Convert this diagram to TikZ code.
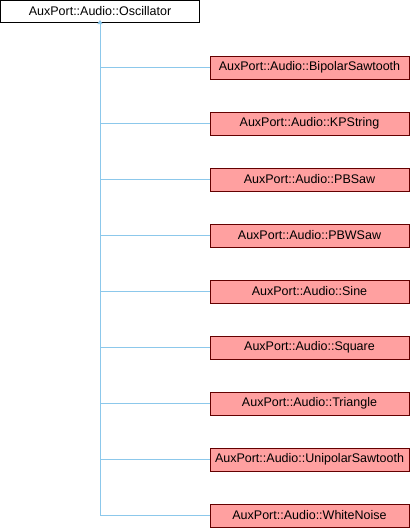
\documentclass[tikz,border=0pt]{standalone}
\usepackage{fontspec}
\setmainfont{Liberation Sans}
\usetikzlibrary{arrows.meta}
\definecolor{boxfill}{RGB}{255,160,160}
\definecolor{boxline}{RGB}{100,0,0}
\definecolor{linkcol}{RGB}{140,200,235}

\begin{document}
\begin{tikzpicture}[x=1pt,y=-1pt,
    base/.style={draw=black,fill=white,line width=1pt,minimum width=199pt,minimum height=22pt,inner sep=0pt,font=\fontsize{12.5}{14}\selectfont},
    child/.style={draw=boxline,fill=boxfill,line width=1pt,minimum width=199pt,minimum height=23pt,inner sep=0pt,font=\fontsize{12.5}{14}\selectfont},
    link/.style={draw=linkcol,line width=1pt}]
    \useasboundingbox (0,0) rectangle (410,528);

    \node[base] (osc) at (100,11.5) {AuxPort::Audio::Oscillator};

    \foreach \name [count=\i from 0] in {BipolarSawtooth,KPString,PBSaw,PBWSaw,Sine,Square,Triangle,UnipolarSawtooth,WhiteNoise} {
      \node[child] (c\i) at (309.5,67.5+56*\i) {AuxPort::Audio::\name};
      \coordinate (t\i) at (100,67.5+56*\i);
      \draw[link] (t\i) -- (c\i.west);
    }

    \draw[link,-{Triangle[length=4pt,width=5pt]}] (t8) -- ([yshift=3pt]osc.south);
\end{tikzpicture}
\end{document}
